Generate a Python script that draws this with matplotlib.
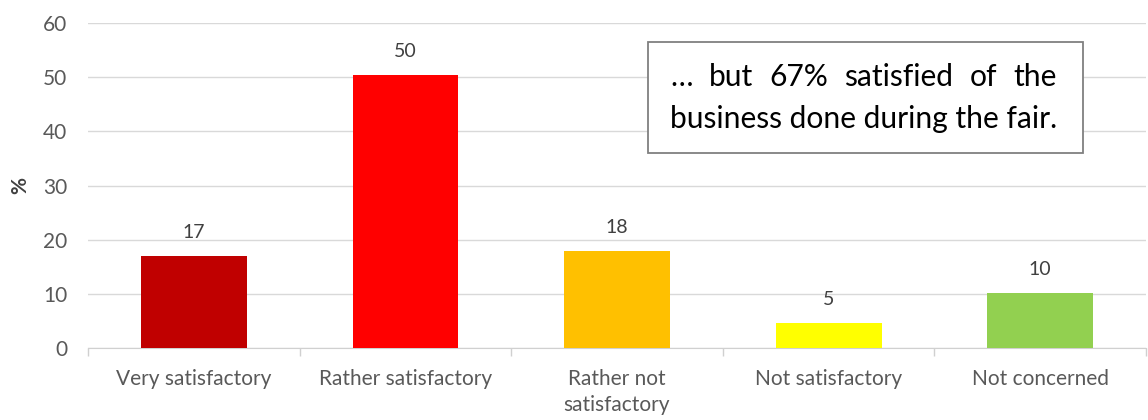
import numpy as np
import matplotlib.pyplot as plt
from matplotlib.patches import Rectangle

# data
categories = ["Very satisfactory", "Rather satisfactory", "Rather not\nsatisfactory",
              "Not satisfactory", "Not concerned"]
values = [17.0, 50.4, 17.9, 4.6, 10.2]
labels = [17, 50, 18, 5, 10]
colors = ["#C00000", "#FF0000", "#FFC000", "#FFFF00", "#92D050"]
y_ticks = [0, 10, 20, 30, 40, 50, 60]
note_line1 = ["…", "but", "67%", "satisfied", "of", "the"]
note_line2 = "business done during the fair."

plt.rcParams['font.family'] = ['Lato', 'DejaVu Sans']

fig = plt.figure(figsize=(11.48, 4.2), dpi=100)
ax = fig.add_axes([88 / 1148, 72 / 420, 1058 / 1148, 325 / 420])

x = np.arange(len(categories))
ax.bar(x, values, width=0.5, color=colors, zorder=3)

for xi, v, lab in zip(x, values, labels):
    ax.text(xi, v + 2.7, str(lab), ha='center', va='bottom',
            fontsize=14, color='#404040')

ax.set_xlim(-0.5, len(categories) - 0.5)
ax.set_ylim(0, 60)
ax.set_yticks(y_ticks)
ax.grid(axis='y', color='#d9d9d9', linewidth=1, zorder=0)

ax.set_xticks(x)
ax.set_xticklabels(categories, fontsize=15, color='#595959', linespacing=1.4)
ax.set_xticks(np.arange(-0.5, len(categories)), minor=True)
ax.tick_params(axis='x', which='major', length=0, pad=15)
ax.tick_params(axis='x', which='minor', length=6, color='#d0d0d0', width=1)
ax.tick_params(axis='y', length=0, labelsize=15, labelcolor='#595959', pad=15)

for s in ['top', 'right', 'left']:
    ax.spines[s].set_visible(False)
ax.spines['bottom'].set_color('#d0d0d0')

ax.set_ylabel('%', fontsize=15, fontweight='bold', color='#404040', labelpad=9)

# annotation box
bx0, bx1 = 0.529, 0.940
by0, by1 = 0.600, 0.9415
ax.add_patch(Rectangle((bx0, by0), bx1 - bx0, by1 - by0, transform=ax.transAxes,
                       facecolor='white', edgecolor='#808080', linewidth=1.3,
                       zorder=5, clip_on=False))

tx0 = 0.550
line2 = ax.text(tx0, 0.705, note_line2, transform=ax.transAxes, ha='left',
                va='center', fontsize=21.6, color='black', zorder=6)

# justify the first line over the same width as the second
fig.canvas.draw()
r = fig.canvas.get_renderer()
l2 = line2.get_window_extent(r)
left_px, right_px = l2.x0, l2.x1
words = []
for w in note_line1:
    t = ax.text(0, 0.834, w, transform=ax.transAxes, ha='left', va='center',
                fontsize=21.6, color='black', zorder=6)
    words.append(t)
fig.canvas.draw()
widths = [t.get_window_extent(r).width for t in words]
gap = (right_px - left_px - sum(widths)) / (len(words) - 1)
inv = ax.transAxes.inverted()
pos = left_px
for t, wd in zip(words, widths):
    t.set_x(inv.transform((pos, 0))[0])
    pos += wd + gap

fig.savefig("out.png", dpi=100)
